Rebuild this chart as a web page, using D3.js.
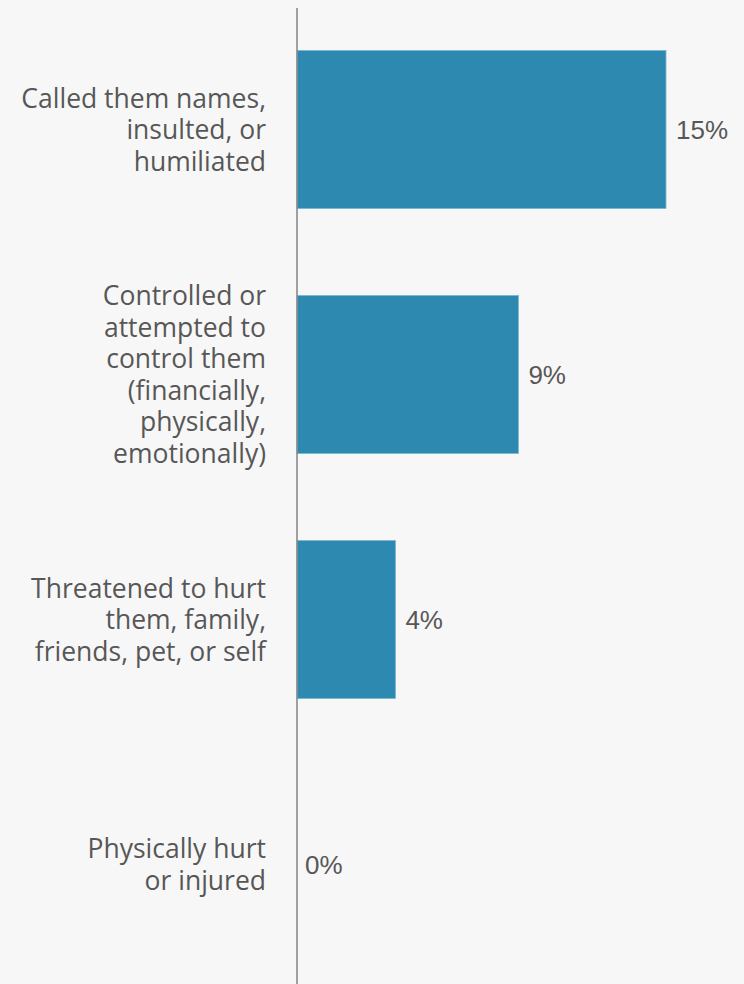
<!DOCTYPE html>
<html>
<head>
<meta charset="utf-8">
<script src="https://cdn.jsdelivr.net/npm/d3@7/dist/d3.min.js"></script>
<style>
  html, body { margin: 0; padding: 0; background: #f7f7f7; }
  svg { display: block; }
</style>
</head>
<body>
<svg id="chart" width="744" height="984"></svg>
<script>
// Share of respondents reporting each behaviour
const categories = [
  "Called them names, insulted, or humiliated",
  "Controlled or attempted to control them (financially, physically, emotionally)",
  "Threatened to hurt them, family, friends, pet, or self",
  "Physically hurt or injured"
];
// Wrapped lines used for each category label
const categoryLines = [
  ["Called them names,", "insulted, or", "humiliated"],
  ["Controlled or", "attempted to", "control them", "(financially,", "physically,", "emotionally)"],
  ["Threatened to hurt", "them, family,", "friends, pet, or self"],
  ["Physically hurt", "or injured"]
];
const values = [15, 9, 4, 0];

const W = 744, H = 984;
const svg = d3.select("#chart");
svg.append("rect").attr("width", W).attr("height", H).attr("fill", "#f7f7f7");

const x = d3.scaleLinear().domain([0, 15]).range([297, 666]);
const y = d3.scaleBand().domain(categories).range([7, 987])
  .paddingInner(0.355).paddingOuter(0.1775);

const textColor = "#575757";
const lineH = 31.5;

// bars
svg.append("g").selectAll("rect")
  .data(categories)
  .join("rect")
  .attr("x", x(0))
  .attr("y", d => y(d))
  .attr("width", (d, i) => x(values[i]) - x(0))
  .attr("height", y.bandwidth())
  .attr("fill", "#2e89b0")
  .attr("stroke", (d, i) => values[i] > 0 ? "#7ab6d3" : "none")
  .attr("stroke-width", 0.8);

// vertical baseline axis
svg.append("line")
  .attr("x1", x(0)).attr("x2", x(0))
  .attr("y1", 8).attr("y2", H)
  .attr("stroke", "#8a8a8a").attr("stroke-width", 1.6);

// category labels
const labels = svg.append("g")
  .attr("font-family", "'Open Sans', sans-serif")
  .attr("font-size", 26.5)
  .attr("fill", textColor)
  .attr("text-anchor", "end");

categories.forEach((c, i) => {
  const cy = y(c) + y.bandwidth() / 2;
  const lines = categoryLines[i];
  const t = labels.append("text");
  lines.forEach((ln, j) => {
    t.append("tspan")
      .attr("x", 266)
      .attr("y", cy + (j - (lines.length - 1) / 2) * lineH + 9.5)
      .text(ln);
  });
});

// value labels
svg.append("g")
  .attr("font-family", "'Liberation Sans', Arial, sans-serif")
  .attr("font-size", 26)
  .attr("fill", textColor)
  .selectAll("text")
  .data(categories)
  .join("text")
  .attr("x", (d, i) => x(values[i]) + (values[i] > 0 ? 10 : 8))
  .attr("y", d => y(d) + y.bandwidth() / 2 + 9.5)
  .text((d, i) => values[i] + "%");
</script>
</body>
</html>
